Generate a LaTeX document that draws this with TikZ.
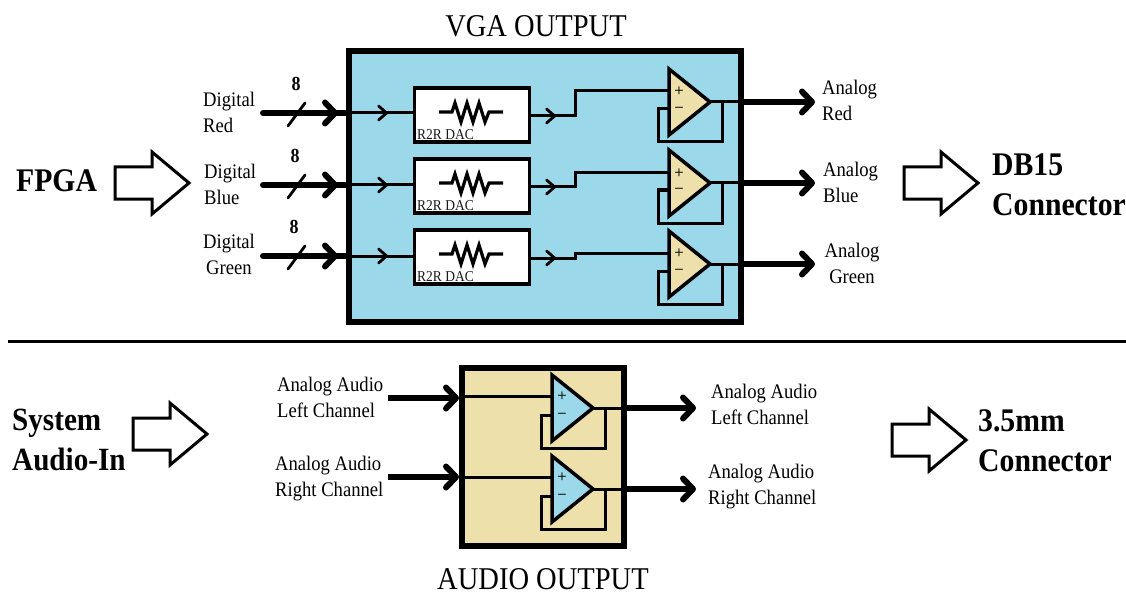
\documentclass[tikz,border=0pt]{standalone}
\usepackage{fontspec}
\setmainfont[FakeStretch=0.9]{Liberation Serif}
\usetikzlibrary{arrows.meta,calc}
\definecolor{vgablue}{HTML}{9AD8EA}
\definecolor{audiotan}{HTML}{EEE0AB}
\tikzset{
  x=1pt,y=-1pt,
  panel/.style={draw=black,line width=6pt,miter limit=10},
  dacbox/.style={draw=black,fill=white,line width=3.2pt,minimum width=115pt,minimum height=54pt,inner sep=0pt,outer sep=0pt},
  wire/.style={draw=black,line width=3pt,line join=miter},
  busline/.style={draw=black,line width=6pt},
  bus/.style={draw=black,line width=6pt,-{Straight Barb[length=10pt,width=21pt,round]}},
  midtip/.style={draw=black,line width=2.8pt,-{Straight Barb[length=8pt,width=14pt,round]}},
  slashmark/.style={draw=black,line width=2.8pt},
  res/.style={draw=black,line width=3.2pt,line join=miter},
  amp/.style={draw=black,line width=3.5pt,line join=miter},
  bigarrow/.style={draw=black,fill=white,line width=3pt,line join=miter},
  lab/.style={font=\fontsize{20.7}{26}\selectfont,inner sep=0pt},
  title/.style={font=\fontsize{31.7}{36}\selectfont,inner sep=0pt},
  head/.style={font=\fontsize{33}{40}\selectfont\bfseries,inner sep=0pt,align=left,anchor=west},
  eightlab/.style={font=\fontsize{20}{20}\selectfont\bfseries,inner sep=0pt},
  daclab/.style={font=\fontsize{15}{15}\selectfont,text=black!90,inner sep=0pt,anchor=west},
  signlab/.style={font=\fontsize{11}{11}\selectfont\bfseries\sffamily,text=black,inner sep=0pt},
}
% #1 name, #2 left x, #3 top y, #4 fill, #5 plus y
\newcommand\opampdraw[5]{%
  \coordinate (#1tip) at (#2+41,#3+33);
  \coordinate (#1plus) at (#2,#5);
  \coordinate (#1minus) at (#2,#3+40);
  \coordinate (#1fbr) at (#2+53,#3+33);
  \draw[wire] (#1tip) -- (#1fbr) -- (#2+53,#3+73) -- (#2-11,#3+73) -- (#2-11,#3+40) -- (#1minus);
  \draw[amp,fill=#4] (#2,#3) -- (#1tip) -- (#2,#3+66) -- cycle;
  \node[signlab] (#1p) at (#2+10,#5) {+};
  \node[signlab] (#1m) at (#2+10,#3+40) {−};
}
% #1 name, #2 box centre y
\newcommand\dacdraw[2]{%
  \node[dacbox] (dac#1) at (472,#2) {};
  \coordinate (res#1a) at (439,#2-3);
  \coordinate (res#1b) at (503,#2-3);
  \draw[res] (res#1a) -- ++(13,0) -- ++(3,-9) -- ++(6,19) -- ++(6,-19) -- ++(6,19) -- ++(6,-19) -- ++(6,19) -- ++(4,-10) -- (res#1b);
  \node[daclab] (dac#1t) at (417,#2+20) {R2R DAC};
}
\begin{document}
\begin{tikzpicture}
\useasboundingbox (0,0) rectangle (1126,596);
% panels
\draw[panel,fill=vgablue] (349,51) rectangle (741,322);
\draw[panel,fill=audiotan] (462,368) rectangle (624,546);
% DACs
\dacdraw{R}{115}
\dacdraw{B}{186}
\dacdraw{G}{257}
% op amps video
\opampdraw{aR}{669}{69}{audiotan}{91}
\opampdraw{aB}{669}{150}{audiotan}{173}
\opampdraw{aG}{669}{231}{audiotan}{253}
% op amps audio
\opampdraw{cL}{552}{375}{vgablue}{396}
\opampdraw{cR}{552}{456}{vgablue}{477}
% inputs
\foreach \n/\y in {R/113,B/185,G/256}{
  \coordinate (in\n) at (263,\y);
  \coordinate (tip\n) at (338,\y);
  \coordinate (back\n) at (325,\y);
  \coordinate (edge\n) at (346,\y);
  \coordinate (mid\n) at (388,\y);
  \draw[busline] (back\n) -- (edge\n);
  \draw[bus,line cap=round] (in\n) -- (tip\n);
  \draw[wire] (edge\n) -- (dac\n.west |- edge\n);
  \draw[midtip] (edge\n) -- (mid\n);
  \draw[slashmark,line cap=round] ($(in\n)+(25,13)$) -- ($(in\n)+(42,-10)$);
}
% DAC to amp
\foreach \n/\y/\t in {R/116/91,B/187/173,G/258/253}{
  \coordinate (out\n) at (531,\y);
  \coordinate (outm\n) at (556,\y);
  \draw[wire] (out\n) -- (575,\y) -- (575,\t) -- (a\n plus);
  \draw[midtip] (out\n) -- (outm\n);
}
% analog outputs
\foreach \n/\y in {R/102,B/183,G/264}{
  \coordinate (edgeo\n) at (743,\y);
  \coordinate (end\n) at (815,\y);
  \draw[wire] (a\n fbr) -- (edgeo\n);
  \draw[bus] (edgeo\n) -- (end\n);
}
% audio inputs
\coordinate (lin) at (388,398); \coordinate (ledge) at (459,398);
\coordinate (rin) at (388,477); \coordinate (redge) at (459,477);
\draw[bus] (lin) -- (ledge);
\draw[bus] (rin) -- (redge);
\draw[wire] (ledge |- cLplus) -- (cLplus);
\draw[wire] (redge |- cRplus) -- (cRplus);
% audio outputs
\foreach \n/\y in {L/408,R/489}{
  \coordinate (cedge\n) at (626,\y);
  \coordinate (cend\n) at (696,\y);
  \draw[wire] (c\n fbr) -- (cedge\n);
  \draw[bus] (cedge\n) -- (cend\n);
}
% divider
\coordinate (divl) at (8,341); \coordinate (divr) at (1126,341);
\draw[draw=black,line width=3pt] (divl) -- (divr);
% big arrows
\foreach \x/\y/\n in {115/183/fa,904/183/db,133/434/sa,892/440/ja}{
  \draw[bigarrow] (\x,\y-16) -- (\x+37,\y-16) -- (\x+37,\y-31) -- (\x+74,\y) -- (\x+37,\y+31) -- (\x+37,\y+16) -- (\x,\y+16) -- cycle;
}
% texts
\node[title] (vgat) at (536,26) {VGA OUTPUT};
\node[title] (audt) at (543,579) {AUDIO OUTPUT};
\node[head] (fpga) at (16,181) {FPGA};
\node[head] (dbc) at (992,185) {DB15\\Connector};
\node[head,font=\fontsize{32.4}{40}\selectfont\bfseries] (sys) at (12,440) {System\\Audio-In};
\node[head] (jack) at (978,441) {3.5mm\\Connector};
\node[lab,align=left,anchor=west] (dr) at (203,112) {Digital\\Red};
\node[lab,align=left,anchor=west] (db) at (204,184) {Digital\\Blue};
\node[lab,align=center] (dg) at (229,254) {Digital\\Green};
\node[lab,align=left,anchor=west] (ar) at (822,100) {Analog\\Red};
\node[lab,align=left,anchor=west] (ab) at (823,182) {Analog\\Blue};
\node[lab,align=center] (ag) at (852,263) {Analog\\Green};
\node[lab,align=left,anchor=west] (ll) at (277,397) {Analog Audio\\Left Channel};
\node[lab,align=left,anchor=west] (rl) at (275,479) {Analog Audio\\Right Channel};
\node[lab,align=left,anchor=west] (lo) at (711,404) {Analog Audio\\Left Channel};
\node[lab,align=left,anchor=west] (ro) at (708,487) {Analog Audio\\Right Channel};
\node[eightlab] (e1) at (296,84) {8};
\node[eightlab] (e2) at (295,156) {8};
\node[eightlab] (e3) at (294,227) {8};
\end{tikzpicture}
\end{document}
